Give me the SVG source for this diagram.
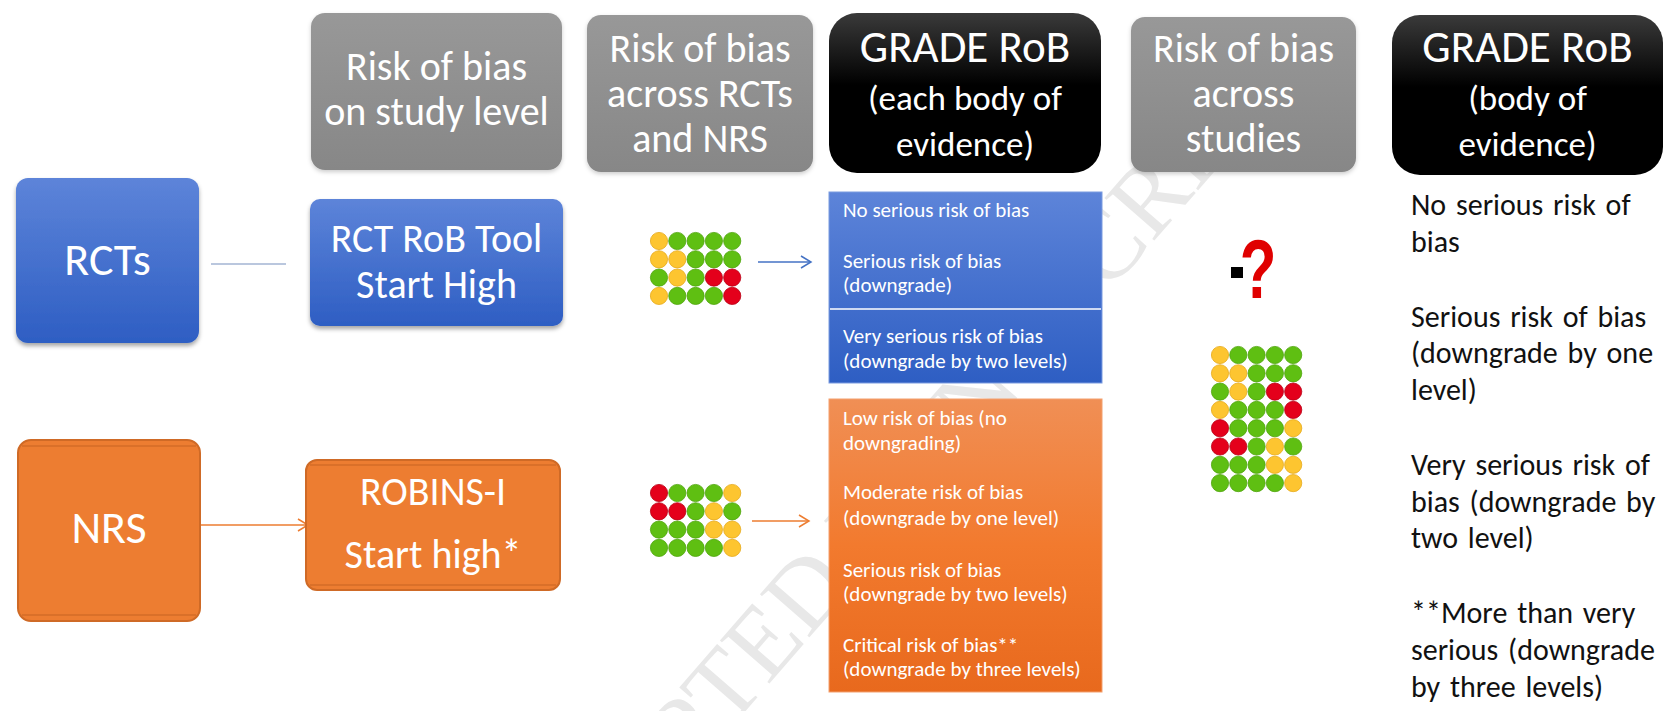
<svg xmlns="http://www.w3.org/2000/svg" width="1664" height="711" viewBox="0 0 1664 711">
<defs>
<style>
.t{font-family:Carlito,Lato,"Liberation Sans",sans-serif;fill:#fff}
.c{text-anchor:middle}
.hdr{font-size:40px}
.grade{font-size:45px}
.sub{font-size:35px}
.big{font-size:46px}
.tool{font-size:40px}
.list{font-size:21px}
.right{font-size:30px;fill:#111;word-spacing:3px}
.Y{fill:#fdc530;stroke:#e6a91c;stroke-width:0.8}
.G{fill:#5fbf12;stroke:#4fa40c;stroke-width:0.8}
.R{fill:#e4001b;stroke:#b90015;stroke-width:0.8}
.conn{fill:none;stroke-width:1.5}
</style>
<linearGradient id="blueG" x1="0" y1="0" x2="0" y2="1"><stop offset="0" stop-color="#5d84d9"/><stop offset="1" stop-color="#2e5ec3"/></linearGradient>
<linearGradient id="grayG" x1="0" y1="0" x2="0" y2="1"><stop offset="0" stop-color="#989898"/><stop offset="1" stop-color="#878787"/></linearGradient>
<linearGradient id="blackG" x1="0" y1="0" x2="0" y2="1"><stop offset="0" stop-color="#3a3a3a"/><stop offset="0.45" stop-color="#000"/><stop offset="1" stop-color="#000"/></linearGradient>
<linearGradient id="orangeG" x1="0" y1="0" x2="0" y2="1"><stop offset="0" stop-color="#f08f55"/><stop offset="0.5" stop-color="#f27a2e"/><stop offset="1" stop-color="#e8691d"/></linearGradient>
<filter id="sh" x="-10%" y="-10%" width="120%" height="130%"><feDropShadow dx="0" dy="3" stdDeviation="2" flood-color="#000" flood-opacity="0.35"/></filter>
<filter id="shl" x="-10%" y="-10%" width="120%" height="130%"><feDropShadow dx="0" dy="2" stdDeviation="2" flood-color="#000" flood-opacity="0.2"/></filter>
<marker id="arB" markerUnits="userSpaceOnUse" markerWidth="14" markerHeight="16" refX="11" refY="7" orient="auto"><path d="M1,1 L11,7 L1,13" fill="none" stroke="#4472c4" stroke-width="1.5"/></marker>
<marker id="arO" markerUnits="userSpaceOnUse" markerWidth="14" markerHeight="16" refX="11" refY="7" orient="auto"><path d="M1,1 L11,7 L1,13" fill="none" stroke="#ed7d31" stroke-width="1.5"/></marker>
<g id="gridA">
<circle class="Y" cx="0" cy="0" r="8.6"/><circle class="G" cx="18.3" cy="0" r="8.6"/><circle class="G" cx="36.6" cy="0" r="8.6"/><circle class="G" cx="54.9" cy="0" r="8.6"/><circle class="G" cx="73.2" cy="0" r="8.6"/>
<circle class="Y" cx="0" cy="18.3" r="8.6"/><circle class="Y" cx="18.3" cy="18.3" r="8.6"/><circle class="G" cx="36.6" cy="18.3" r="8.6"/><circle class="G" cx="54.9" cy="18.3" r="8.6"/><circle class="G" cx="73.2" cy="18.3" r="8.6"/>
<circle class="G" cx="0" cy="36.6" r="8.6"/><circle class="Y" cx="18.3" cy="36.6" r="8.6"/><circle class="G" cx="36.6" cy="36.6" r="8.6"/><circle class="R" cx="54.9" cy="36.6" r="8.6"/><circle class="R" cx="73.2" cy="36.6" r="8.6"/>
<circle class="Y" cx="0" cy="54.9" r="8.6"/><circle class="G" cx="18.3" cy="54.9" r="8.6"/><circle class="G" cx="36.6" cy="54.9" r="8.6"/><circle class="G" cx="54.9" cy="54.9" r="8.6"/><circle class="R" cx="73.2" cy="54.9" r="8.6"/>
</g>
<g id="gridB">
<circle class="R" cx="0" cy="0" r="8.6"/><circle class="G" cx="18.3" cy="0" r="8.6"/><circle class="G" cx="36.6" cy="0" r="8.6"/><circle class="G" cx="54.9" cy="0" r="8.6"/><circle class="Y" cx="73.2" cy="0" r="8.6"/>
<circle class="R" cx="0" cy="18.3" r="8.6"/><circle class="R" cx="18.3" cy="18.3" r="8.6"/><circle class="G" cx="36.6" cy="18.3" r="8.6"/><circle class="Y" cx="54.9" cy="18.3" r="8.6"/><circle class="G" cx="73.2" cy="18.3" r="8.6"/>
<circle class="G" cx="0" cy="36.6" r="8.6"/><circle class="G" cx="18.3" cy="36.6" r="8.6"/><circle class="G" cx="36.6" cy="36.6" r="8.6"/><circle class="Y" cx="54.9" cy="36.6" r="8.6"/><circle class="Y" cx="73.2" cy="36.6" r="8.6"/>
<circle class="G" cx="0" cy="54.9" r="8.6"/><circle class="G" cx="18.3" cy="54.9" r="8.6"/><circle class="G" cx="36.6" cy="54.9" r="8.6"/><circle class="G" cx="54.9" cy="54.9" r="8.6"/><circle class="Y" cx="73.2" cy="54.9" r="8.6"/>
</g>
</defs>
<rect width="1664" height="711" fill="#fff"/>
<text transform="translate(516,975) rotate(-49)" font-family="'Liberation Serif',serif" font-size="100" fill="#e8e8e8">ACCEPTED MANUSCRIPT</text>

<g id="hdr-study">
<rect x="311" y="13" width="251" height="157" rx="14" fill="url(#grayG)" filter="url(#shl)"/>
<text class="t hdr c" x="436.5" y="80">Risk of bias</text>
<text class="t hdr c" x="436.5" y="125">on study level</text>
</g>
<g id="hdr-across">
<rect x="587" y="15" width="226" height="157" rx="14" fill="url(#grayG)" filter="url(#shl)"/>
<text class="t hdr c" x="700" y="62">Risk of bias</text>
<text class="t hdr c" x="700" y="107">across RCTs</text>
<text class="t hdr c" x="700" y="152">and NRS</text>
</g>
<g id="hdr-grade1">
<rect x="829" y="13" width="272" height="160" rx="28" fill="url(#blackG)"/>
<text class="t grade c" x="965" y="62">GRADE RoB</text>
<text class="t sub c" x="965" y="110">(each body of</text>
<text class="t sub c" x="965" y="156">evidence)</text>
</g>
<g id="hdr-studies">
<rect x="1131" y="17" width="225" height="155" rx="14" fill="url(#grayG)" filter="url(#shl)"/>
<text class="t hdr c" x="1243.5" y="62">Risk of bias</text>
<text class="t hdr c" x="1243.5" y="107">across</text>
<text class="t hdr c" x="1243.5" y="152">studies</text>
</g>
<g id="hdr-grade2">
<rect x="1392" y="15" width="271" height="160" rx="28" fill="url(#blackG)"/>
<text class="t grade c" x="1527.5" y="62">GRADE RoB</text>
<text class="t sub c" x="1527.5" y="110">(body of</text>
<text class="t sub c" x="1527.5" y="156">evidence)</text>
</g>

<g id="connectors">
<line class="conn" x1="211" y1="264" x2="286" y2="264" stroke="#a3b5d3"/>
<line class="conn" x1="201" y1="525" x2="308" y2="525" stroke="#ed7d31" marker-end="url(#arO)"/>
<line class="conn" x1="758" y1="262" x2="811" y2="262" stroke="#4472c4" marker-end="url(#arB)"/>
<line class="conn" x1="752" y1="521" x2="809" y2="521" stroke="#ed7d31" marker-end="url(#arO)"/>
</g>

<g id="rcts">
<rect x="16" y="178" width="183" height="165" rx="12" fill="url(#blueG)" filter="url(#sh)"/>
<text class="t big c" x="107.5" y="275">RCTs</text>
</g>
<g id="rct-tool">
<rect x="310" y="199" width="253" height="127" rx="10" fill="url(#blueG)" filter="url(#sh)"/>
<text class="t tool c" x="436.5" y="252">RCT RoB Tool</text>
<text class="t tool c" x="436.5" y="298">Start High</text>
</g>
<g id="nrs">
<rect x="18" y="440" width="182" height="181" rx="13" fill="#ed7d31" stroke="#cf6a26" stroke-width="2"/>
<line x1="22" y1="446" x2="196" y2="446" stroke="#d36c27" stroke-width="1.5"/>
<line x1="22" y1="615" x2="196" y2="615" stroke="#d36c27" stroke-width="1.5"/>
<text class="t big c" x="109" y="543">NRS</text>
</g>
<g id="robins">
<rect x="306" y="460" width="254" height="130" rx="11" fill="#ed7d31" stroke="#cf6a26" stroke-width="2"/>
<line x1="310" y1="465" x2="556" y2="465" stroke="#d36c27" stroke-width="1.5"/>
<line x1="310" y1="585" x2="556" y2="585" stroke="#d36c27" stroke-width="1.5"/>
<text class="t tool c" x="433" y="505">ROBINS-I</text>
<text class="t tool c" x="433" y="568">Start high*</text>
</g>

<g id="dots-rct"><use href="#gridA" x="659" y="241"/></g>
<g id="dots-nrs"><use href="#gridB" x="659" y="493"/></g>
<g id="dots-all">
<use href="#gridA" x="1220" y="355"/>
<use href="#gridB" x="1220" y="428.2"/>
</g>

<g id="question">
<rect x="1231" y="267" width="12" height="11" fill="#000"/>
<text transform="translate(1258,298) scale(1,1.38)" text-anchor="middle" font-family="'Liberation Sans',Arial,sans-serif" font-weight="bold" font-size="60" fill="#e00000">?</text>
</g>

<g id="grade-rct-list">
<rect x="829" y="192" width="273" height="191" fill="url(#blueG)" stroke="#7b9be0" stroke-width="1"/>
<line x1="830" y1="309" x2="1101" y2="309" stroke="#fff" stroke-width="1.5"/>
<text class="t list" x="843" y="217">No serious risk of bias</text>
<text class="t list" x="843" y="268">Serious risk of bias</text>
<text class="t list" x="843" y="292">(downgrade)</text>
<text class="t list" x="843" y="343">Very serious risk of bias</text>
<text class="t list" x="843" y="368">(downgrade by two levels)</text>
</g>
<g id="grade-nrs-list">
<rect x="829" y="399" width="273" height="293" fill="url(#orangeG)" stroke="#f3a06e" stroke-width="1"/>
<text class="t list" x="843" y="425">Low risk of bias (no</text>
<text class="t list" x="843" y="450">downgrading)</text>
<text class="t list" x="843" y="499">Moderate risk of bias</text>
<text class="t list" x="843" y="525">(downgrade by one level)</text>
<text class="t list" x="843" y="577">Serious risk of bias</text>
<text class="t list" x="843" y="601">(downgrade by two levels)</text>
<text class="t list" x="843" y="652">Critical risk of bias**</text>
<text class="t list" x="843" y="676">(downgrade by three levels)</text>
</g>

<g id="grade-body-text">
<text class="t right" x="1411" y="215">No serious risk of</text>
<text class="t right" x="1411" y="252">bias</text>
<text class="t right" x="1411" y="327">Serious risk of bias</text>
<text class="t right" x="1411" y="363">(downgrade by one</text>
<text class="t right" x="1411" y="400">level)</text>
<text class="t right" x="1411" y="475">Very serious risk of</text>
<text class="t right" x="1411" y="512">bias (downgrade by</text>
<text class="t right" x="1411" y="548">two level)</text>
<text class="t right" x="1411" y="623">**More than very</text>
<text class="t right" x="1411" y="660">serious (downgrade</text>
<text class="t right" x="1411" y="697">by three levels)</text>
</g>
</svg>
